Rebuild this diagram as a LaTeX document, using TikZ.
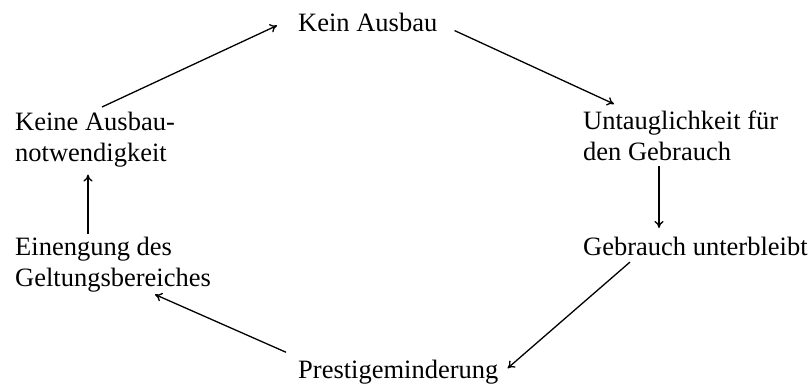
\documentclass[tikz,border=0pt]{standalone}
\usepackage{fontspec}
\setmainfont{Liberation Serif}
\usetikzlibrary{arrows.meta,calc}
\begin{document}
\begin{tikzpicture}[x=1pt,y=-1pt,
  lbl/.style={inner sep=0pt,anchor=north west,align=left,font=\fontsize{26.5}{31}\selectfont},
  arr/.style={-{To[length=7pt,width=9pt]},line width=1.3pt}]
\useasboundingbox (0,0) rectangle (811,388);
\node[lbl] (kein) at (298,13) {Kein Ausbau};
\node[lbl] (unt) at (583,111) {Untauglichkeit für\\den Gebrauch};
\node[lbl] (geb) at (583,237) {Gebrauch unterbleibt};
\node[lbl] (pre) at (298,360) {Prestigeminderung};
\node[lbl] (ein) at (15,237) {Einengung des\\Geltungsbereiches};
\node[lbl] (kan) at (15,112) {Keine Ausbau-\\notwendigkeit};
\draw[arr] ($(kan.north west)+(87,-5)$) -- ($(kein.west)+(-21,3)$);
\draw[arr] ($(kein.east)+(17,8)$) -- ($(unt.north west)+(31,-7)$);
\draw[arr] ($(unt.south west)+(76,5)$) -- ($(geb.north west)+(76,-9)$);
\draw[arr] ($(geb.south west)+(47,6)$) -- ($(pre.east)+(9,-4)$);
\draw[arr] ($(pre.west)+(-12,-20)$) -- ($(ein.south west)+(140,2)$);
\draw[arr] ($(ein.north west)+(73,-3)$) -- ($(kan.south west)+(73,7)$);
\end{tikzpicture}
\end{document}
